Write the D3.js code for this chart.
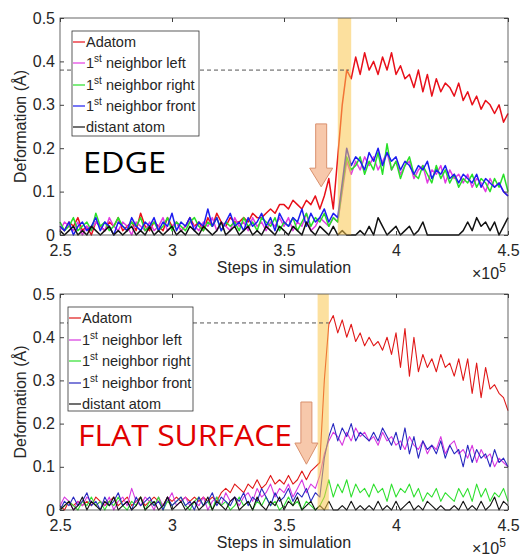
<!DOCTYPE html>
<html>
<head>
<meta charset="utf-8">
<script src="https://cdn.jsdelivr.net/npm/d3@7"></script>
<style>
body { margin: 0; background: #fff; }
text { font-family: "Liberation Sans", Arial, sans-serif; fill: #262626; }
</style>
</head>
<body>
<svg width="528" height="556"></svg>
<script>
// sampling grid of the simulation (steps)
var steps = d3.range(250000, 450001, 2000);
var xTicks = [250000, 300000, 350000, 400000, 450000];
var xTickLabels = ["2.5", "3", "3.5", "4", "4.5"];
var yTicks = [0, 0.1, 0.2, 0.3, 0.4, 0.5];
var yTickLabels = ["0", "0.1", "0.2", "0.3", "0.4", "0.5"];

var legendLabels = [
	["Adatom", "", ""],
	["1", "st", " neighbor left"],
	["1", "st", " neighbor right"],
	["1", "st", " neighbor front"],
	["distant atom", "", ""]
];

// EDGE panel
var edgeAdatom = [
	0.02, 0.01, 0.03, 0.02, 0.04, 0.01, 0.02, 0.00, 0.03, 0.02,
	0.01, 0.03, 0.02, 0.04, 0.01, 0.02, 0.03, 0.01, 0.05, 0.02,
	0.01, 0.03, 0.02, 0.01, 0.04, 0.02, 0.03, 0.01, 0.02, 0.04,
	0.02, 0.03, 0.01, 0.04, 0.02, 0.05, 0.03, 0.02, 0.04, 0.03,
	0.03, 0.04, 0.03, 0.05, 0.04, 0.04, 0.05, 0.06, 0.05, 0.07,
	0.07, 0.06, 0.08, 0.07, 0.06, 0.08, 0.07, 0.09, 0.06, 0.09,
	0.13, 0.06, 0.18, 0.30, 0.38, 0.36, 0.41, 0.37, 0.42, 0.38,
	0.40, 0.37, 0.41, 0.38, 0.42, 0.37, 0.39, 0.36, 0.37, 0.34,
	0.38, 0.33, 0.37, 0.32, 0.36, 0.33, 0.35, 0.34, 0.32, 0.35,
	0.31, 0.33, 0.30, 0.32, 0.29, 0.31, 0.30, 0.28, 0.30, 0.26, 0.28
];
var edgeLeft = [
	0.01, 0.03, 0.02, 0.01, 0.03, 0.00, 0.02, 0.01, 0.03, 0.02,
	0.01, 0.04, 0.02, 0.01, 0.03, 0.02, 0.00, 0.03, 0.02, 0.01,
	0.03, 0.01, 0.02, 0.04, 0.01, 0.02, 0.03, 0.01, 0.02, 0.03,
	0.02, 0.01, 0.03, 0.02, 0.04, 0.01, 0.03, 0.02, 0.01, 0.04,
	0.02, 0.03, 0.01, 0.04, 0.02, 0.03, 0.01, 0.03, 0.02, 0.04,
	0.02, 0.04, 0.01, 0.03, 0.02, 0.05, 0.01, 0.02, 0.04, 0.03,
	0.02, 0.04, 0.03, 0.10, 0.17, 0.14, 0.17, 0.15, 0.18, 0.16,
	0.18, 0.15, 0.17, 0.19, 0.15, 0.17, 0.14, 0.16, 0.17, 0.13,
	0.15, 0.16, 0.12, 0.15, 0.14, 0.16, 0.12, 0.15, 0.13, 0.14,
	0.12, 0.14, 0.11, 0.13, 0.12, 0.10, 0.13, 0.11, 0.12, 0.10, 0.09
];
var edgeRight = [
	0.03, 0.01, 0.02, 0.04, 0.01, 0.02, 0.03, 0.01, 0.05, 0.02,
	0.03, 0.01, 0.02, 0.04, 0.02, 0.01, 0.03, 0.02, 0.04, 0.01,
	0.02, 0.03, 0.01, 0.02, 0.04, 0.01, 0.03, 0.02, 0.01, 0.03,
	0.04, 0.02, 0.01, 0.03, 0.02, 0.04, 0.01, 0.03, 0.02, 0.03,
	0.01, 0.04, 0.02, 0.03, 0.01, 0.04, 0.03, 0.02, 0.04, 0.01,
	0.03, 0.02, 0.04, 0.01, 0.03, 0.05, 0.02, 0.04, 0.03, 0.05,
	0.02, 0.04, 0.03, 0.11, 0.18, 0.15, 0.16, 0.18, 0.14, 0.17,
	0.15, 0.19, 0.14, 0.21, 0.15, 0.17, 0.13, 0.16, 0.18, 0.14,
	0.13, 0.16, 0.14, 0.12, 0.16, 0.13, 0.15, 0.12, 0.14, 0.11,
	0.13, 0.12, 0.14, 0.11, 0.13, 0.12, 0.10, 0.13, 0.11, 0.14, 0.10
];
var edgeFront = [
	0.02, 0.01, 0.03, 0.00, 0.02, 0.03, 0.01, 0.02, 0.04, 0.01,
	0.03, 0.02, 0.00, 0.03, 0.02, 0.01, 0.04, 0.02, 0.01, 0.03,
	0.02, 0.04, 0.01, 0.03, 0.02, 0.05, 0.01, 0.03, 0.02, 0.04,
	0.01, 0.03, 0.02, 0.06, 0.02, 0.04, 0.01, 0.03, 0.05, 0.02,
	0.03, 0.01, 0.04, 0.02, 0.03, 0.05, 0.02, 0.04, 0.01, 0.05,
	0.03, 0.02, 0.04, 0.03, 0.06, 0.02, 0.05, 0.03, 0.04, 0.06,
	0.03, 0.05, 0.04, 0.12, 0.20, 0.16, 0.18, 0.17, 0.15, 0.19,
	0.17, 0.20, 0.16, 0.19, 0.17, 0.18, 0.15, 0.17, 0.16, 0.14,
	0.16, 0.15, 0.17, 0.13, 0.15, 0.14, 0.16, 0.13, 0.14, 0.12,
	0.14, 0.13, 0.12, 0.14, 0.11, 0.13, 0.12, 0.11, 0.12, 0.10, 0.09
];
var edgeDistant = [
	0.01, 0.00, 0.01, 0.02, 0.00, 0.01, 0.00, 0.02, 0.01, 0.00,
	0.01, 0.02, 0.00, 0.01, 0.00, 0.01, 0.02, 0.00, 0.01, 0.00,
	0.02, 0.00, 0.01, 0.00, 0.01, 0.02, 0.00, 0.01, 0.00, 0.02,
	0.01, 0.00, 0.02, 0.01, 0.00, 0.01, 0.03, 0.00, 0.01, 0.02,
	0.00, 0.01, 0.02, 0.00, 0.01, 0.00, 0.02, 0.01, 0.00, 0.02,
	0.01, 0.00, 0.02, 0.01, 0.00, 0.03, 0.01, 0.00, 0.02, 0.01,
	0.00, 0.02, 0.00, 0.01, 0.00, 0.00, 0.00, 0.01, 0.00, 0.02,
	0.00, 0.04, 0.02, 0.00, 0.01, 0.02, 0.00, 0.01, 0.02, 0.00,
	0.01, 0.03, 0.00, 0.00, 0.00, 0.00, 0.00, 0.00, 0.00, 0.00,
	0.01, 0.03, 0.01, 0.04, 0.02, 0.03, 0.01, 0.03, 0.00, 0.02, 0.04
];

// FLAT SURFACE panel
var flatAdatom = [
	0.01, 0.00, 0.02, 0.01, 0.02, 0.01, 0.02, 0.01, 0.03, 0.02,
	0.01, 0.02, 0.03, 0.01, 0.02, 0.03, 0.01, 0.02, 0.03, 0.01,
	0.02, 0.03, 0.02, 0.01, 0.03, 0.02, 0.03, 0.02, 0.03, 0.02,
	0.03, 0.02, 0.03, 0.02, 0.03, 0.02, 0.04, 0.05, 0.04, 0.06,
	0.05, 0.04, 0.06, 0.05, 0.07, 0.05, 0.06, 0.08, 0.06, 0.07,
	0.06, 0.08, 0.06, 0.07, 0.09, 0.07, 0.09, 0.10, 0.11, 0.30,
	0.43, 0.45, 0.41, 0.44, 0.40, 0.43, 0.39, 0.41, 0.38, 0.40,
	0.38, 0.39, 0.37, 0.40, 0.36, 0.41, 0.33, 0.42, 0.31, 0.40,
	0.32, 0.36, 0.33, 0.35, 0.32, 0.36, 0.33, 0.34, 0.31, 0.35,
	0.30, 0.35, 0.27, 0.34, 0.26, 0.33, 0.28, 0.29, 0.27, 0.26, 0.23
];
var flatLeft = [
	0.01, 0.03, 0.02, 0.00, 0.02, 0.01, 0.03, 0.02, 0.01, 0.02,
	0.01, 0.03, 0.00, 0.02, 0.03, 0.01, 0.05, 0.02, 0.01, 0.03,
	0.02, 0.00, 0.03, 0.01, 0.02, 0.04, 0.01, 0.02, 0.03, 0.01,
	0.02, 0.01, 0.03, 0.00, 0.02, 0.03, 0.01, 0.04, 0.02, 0.03,
	0.01, 0.03, 0.04, 0.02, 0.05, 0.03, 0.04, 0.06, 0.03, 0.05,
	0.04, 0.06, 0.03, 0.05, 0.07, 0.04, 0.06, 0.05, 0.08, 0.13,
	0.16, 0.18, 0.17, 0.15, 0.18, 0.16, 0.19, 0.17, 0.18, 0.16,
	0.17, 0.15, 0.18, 0.16, 0.17, 0.15, 0.16, 0.14, 0.17, 0.15,
	0.14, 0.16, 0.13, 0.15, 0.14, 0.17, 0.13, 0.15, 0.16, 0.13,
	0.14, 0.12, 0.15, 0.11, 0.14, 0.12, 0.13, 0.10, 0.12, 0.11, 0.10
];
var flatRight = [
	0.00, 0.01, 0.02, 0.01, 0.00, 0.02, 0.01, 0.03, 0.01, 0.02,
	0.00, 0.02, 0.01, 0.03, 0.01, 0.00, 0.02, 0.01, 0.03, 0.00,
	0.02, 0.01, 0.03, 0.00, 0.02, 0.01, 0.02, 0.03, 0.01, 0.00,
	0.02, 0.03, 0.01, 0.02, 0.00, 0.03, 0.01, 0.02, 0.00, 0.01,
	0.03, 0.01, 0.02, 0.00, 0.02, 0.01, 0.03, 0.01, 0.02, 0.00,
	0.01, 0.03, 0.01, 0.02, 0.00, 0.02, 0.01, 0.00, 0.01, 0.03,
	0.07, 0.03, 0.06, 0.04, 0.07, 0.03, 0.06, 0.04, 0.05, 0.03,
	0.06, 0.04, 0.05, 0.02, 0.06, 0.03, 0.05, 0.04, 0.06, 0.03,
	0.05, 0.02, 0.04, 0.03, 0.05, 0.02, 0.04, 0.03, 0.02, 0.05,
	0.03, 0.05, 0.02, 0.06, 0.03, 0.05, 0.02, 0.04, 0.03, 0.05, 0.02
];
var flatFront = [
	0.00, 0.02, 0.01, 0.03, 0.01, 0.02, 0.04, 0.01, 0.02, 0.00,
	0.03, 0.01, 0.02, 0.04, 0.01, 0.02, 0.00, 0.03, 0.01, 0.02,
	0.03, 0.01, 0.02, 0.00, 0.03, 0.01, 0.02, 0.03, 0.01, 0.02,
	0.00, 0.03, 0.01, 0.02, 0.04, 0.01, 0.03, 0.02, 0.01, 0.03,
	0.02, 0.04, 0.01, 0.03, 0.02, 0.05, 0.03, 0.01, 0.04, 0.02,
	0.03, 0.05, 0.02, 0.04, 0.03, 0.05, 0.02, 0.04, 0.03, 0.12,
	0.17, 0.20, 0.16, 0.19, 0.17, 0.20, 0.16, 0.18, 0.17, 0.16,
	0.18, 0.16, 0.19, 0.17, 0.15, 0.18, 0.14, 0.19, 0.13, 0.17,
	0.12, 0.16, 0.14, 0.15, 0.13, 0.16, 0.12, 0.15, 0.13, 0.14,
	0.10, 0.15, 0.11, 0.14, 0.12, 0.13, 0.10, 0.14, 0.11, 0.12, 0.10
];
var flatDistant = [
	0.00, 0.01, 0.02, 0.00, 0.01, 0.03, 0.00, 0.02, 0.01, 0.00,
	0.02, 0.01, 0.03, 0.00, 0.01, 0.02, 0.00, 0.01, 0.03, 0.00,
	0.01, 0.02, 0.00, 0.01, 0.03, 0.00, 0.01, 0.02, 0.00, 0.01,
	0.02, 0.00, 0.01, 0.03, 0.00, 0.02, 0.01, 0.00, 0.02, 0.03,
	0.00, 0.01, 0.02, 0.00, 0.03, 0.01, 0.00, 0.02, 0.01, 0.03,
	0.00, 0.02, 0.01, 0.03, 0.00, 0.01, 0.02, 0.00, 0.01, 0.00,
	0.02, 0.00, 0.00, 0.01, 0.00, 0.02, 0.00, 0.01, 0.00, 0.01,
	0.00, 0.02, 0.00, 0.01, 0.00, 0.02, 0.00, 0.01, 0.02, 0.00,
	0.01, 0.00, 0.02, 0.01, 0.00, 0.01, 0.00, 0.00, 0.01, 0.00,
	0.02, 0.00, 0.01, 0.00, 0.02, 0.00, 0.01, 0.03, 0.00, 0.02, 0.01
];

var svg = d3.select("svg");

var xScale = d3.scaleLinear()
	.domain([250000, 450000])
	.range([60, 508]);

function drawPanel(p) {
	var yScale = d3.scaleLinear()
		.domain([0, 0.5])
		.range([p.bottom, p.top]);

	var g = svg.append("g");

	// the series, in legend order
	var line = d3.line()
		.x(function(d, i) { return xScale(steps[i]); })
		.y(function(d) { return yScale(d); });

	p.series.forEach(function(s, i) {
		g.append("path")
			.datum(s)
			.attr("d", line)
			.attr("fill", "none")
			.attr("stroke", p.colors[i])
			.attr("stroke-width", p.lineWidth)
			.attr("stroke-linejoin", "round");
	});

	// transition window
	g.append("rect")
		.attr("x", xScale(p.band[0]))
		.attr("y", p.top)
		.attr("width", xScale(p.band[1]) - xScale(p.band[0]))
		.attr("height", p.bottom - p.top)
		.attr("fill", "#f9c74f")
		.attr("opacity", 0.55);

	// threshold dashed line
	g.append("line")
		.attr("x1", xScale(250000))
		.attr("x2", xScale(p.dashEnd))
		.attr("y1", yScale(p.dashY))
		.attr("y2", yScale(p.dashY))
		.attr("stroke", "#555")
		.attr("stroke-width", 1)
		.attr("stroke-dasharray", "4,3");

	// arrow pointing to the onset
	var ax = xScale(p.arrow.x);
	var yTop = yScale(p.arrow.top), yHead = yScale(p.arrow.head), yTip = yScale(p.arrow.tip);
	g.append("path")
		.attr("d", "M" + (ax - 5.5) + "," + yTop + "H" + (ax + 5.5) + "V" + yHead +
			"H" + (ax + 11.5) + "L" + ax + "," + yTip + "L" + (ax - 11.5) + "," + yHead +
			"H" + (ax - 5.5) + "Z")
		.attr("fill", "#f7c8ab")
		.attr("stroke", "#d9906d")
		.attr("stroke-width", 1);

	// axes box with inward ticks (MATLAB style)
	var axisColor = "#404040";
	g.append("rect")
		.attr("x", 60).attr("y", p.top)
		.attr("width", 448).attr("height", p.bottom - p.top)
		.attr("fill", "none")
		.attr("stroke", axisColor)
		.attr("stroke-width", 0.8);

	var xAxis = d3.axisBottom(xScale)
		.tickValues(xTicks)
		.tickSize(-4)
		.tickFormat(function(d, i) { return xTickLabels[i]; });
	var xa = g.append("g")
		.attr("transform", "translate(0," + p.bottom + ")")
		.call(xAxis);
	xa.select(".domain").remove();
	xa.selectAll("line").attr("stroke", axisColor);
	xa.selectAll("text").attr("dy", "1.15em").style("font-size", "16px")
		.style("font-family", "'Liberation Sans', Arial, sans-serif").attr("fill", "#262626");

	var xTop = g.append("g")
		.attr("transform", "translate(0," + p.top + ")")
		.call(d3.axisTop(xScale).tickValues(xTicks).tickSize(-4).tickFormat(""));
	xTop.select(".domain").remove();
	xTop.selectAll("line").attr("stroke", axisColor);

	var yAxis = d3.axisLeft(yScale)
		.tickValues(yTicks)
		.tickSize(-4)
		.tickFormat(function(d, i) { return yTickLabels[i]; });
	var ya = g.append("g")
		.attr("transform", "translate(60,0)")
		.call(yAxis);
	ya.select(".domain").remove();
	ya.selectAll("line").attr("stroke", axisColor);
	ya.selectAll("text").attr("x", -5).style("font-size", "16px")
		.style("font-family", "'Liberation Sans', Arial, sans-serif").attr("fill", "#262626");

	var yRight = g.append("g")
		.attr("transform", "translate(508,0)")
		.call(d3.axisRight(yScale).tickValues(yTicks).tickSize(-4).tickFormat(""));
	yRight.select(".domain").remove();
	yRight.selectAll("line").attr("stroke", axisColor);

	// axis titles
	g.append("text")
		.attr("x", 284).attr("y", p.bottom + 38)
		.attr("text-anchor", "middle")
		.style("font-size", "16px")
		.text("Steps in simulation");

	var mult = g.append("text")
		.attr("x", 472).attr("y", p.bottom + 44)
		.style("font-size", "16px");
	mult.append("tspan").text("\u00d710");
	mult.append("tspan").attr("dy", -7).style("font-size", "12px").text("5");

	g.append("text")
		.attr("transform", "translate(26," + ((p.top + p.bottom) / 2) + ") rotate(-90)")
		.attr("text-anchor", "middle")
		.style("font-size", "16px")
		.text("Deformation (\u00c5)");

	// legend
	var lg = g.append("g");
	lg.append("rect")
		.attr("x", p.legend.x).attr("y", p.legend.y)
		.attr("width", p.legend.w).attr("height", p.legend.h)
		.attr("fill", "#fff")
		.attr("stroke", "#333")
		.attr("stroke-width", 0.8);
	legendLabels.forEach(function(lab, i) {
		var cy = p.legend.rows[i];
		lg.append("line")
			.attr("x1", p.legend.x + 1).attr("x2", p.legend.x + 13)
			.attr("y1", cy).attr("y2", cy)
			.attr("stroke", p.colors[i])
			.attr("stroke-width", 1.2);
		var t = lg.append("text")
			.attr("x", p.legend.x + 14).attr("y", cy + 5)
			.style("font-size", "14.5px")
			.attr("fill", "#111");
		t.append("tspan").text(lab[0]);
		if (lab[1]) {
			t.append("tspan").attr("dy", -6).style("font-size", "10px").text(lab[1]);
			t.append("tspan").attr("dy", 6).text(lab[2]);
		}
	});

	// panel label
	g.append("text")
		.attr("x", p.label.x).attr("y", p.label.y)
		.attr("textLength", p.label.len)
		.attr("lengthAdjust", "spacingAndGlyphs")
		.style("font-family", "'Open Sans', sans-serif")
		.style("font-size", "30px")
		.style("fill", p.label.color)
		.text(p.label.text);
}

drawPanel({
	top: 18, bottom: 235,
	series: [edgeAdatom, edgeLeft, edgeRight, edgeFront, edgeDistant],
	colors: ["#e8101a", "#e23ce2", "#28e028", "#1c1cf0", "#111111"],
	lineWidth: 1.5,
	band: [374000, 380000],
	dashY: 0.38, dashEnd: 379000,
	arrow: { x: 366600, top: 0.256, head: 0.154, tip: 0.111 },
	legend: { x: 72, y: 31, w: 127, h: 105, rows: [42, 63, 85, 106, 127] },
	label: { text: "EDGE", x: 83, y: 173, len: 83, color: "#000" }
});

drawPanel({
	top: 294, bottom: 510,
	series: [flatAdatom, flatLeft, flatRight, flatFront, flatDistant],
	colors: ["#e01818", "#d838e0", "#30e030", "#2828c0", "#111111"],
	lineWidth: 1.1,
	band: [365000, 370000],
	dashY: 0.433, dashEnd: 370000,
	arrow: { x: 360000, top: 0.25, head: 0.155, tip: 0.106 },
	legend: { x: 68, y: 307, w: 125, h: 104, rows: [318, 340, 361, 383, 404] },
	label: { text: "FLAT SURFACE", x: 78, y: 446, len: 214, color: "#e00000" }
});
</script>
</body>
</html>
